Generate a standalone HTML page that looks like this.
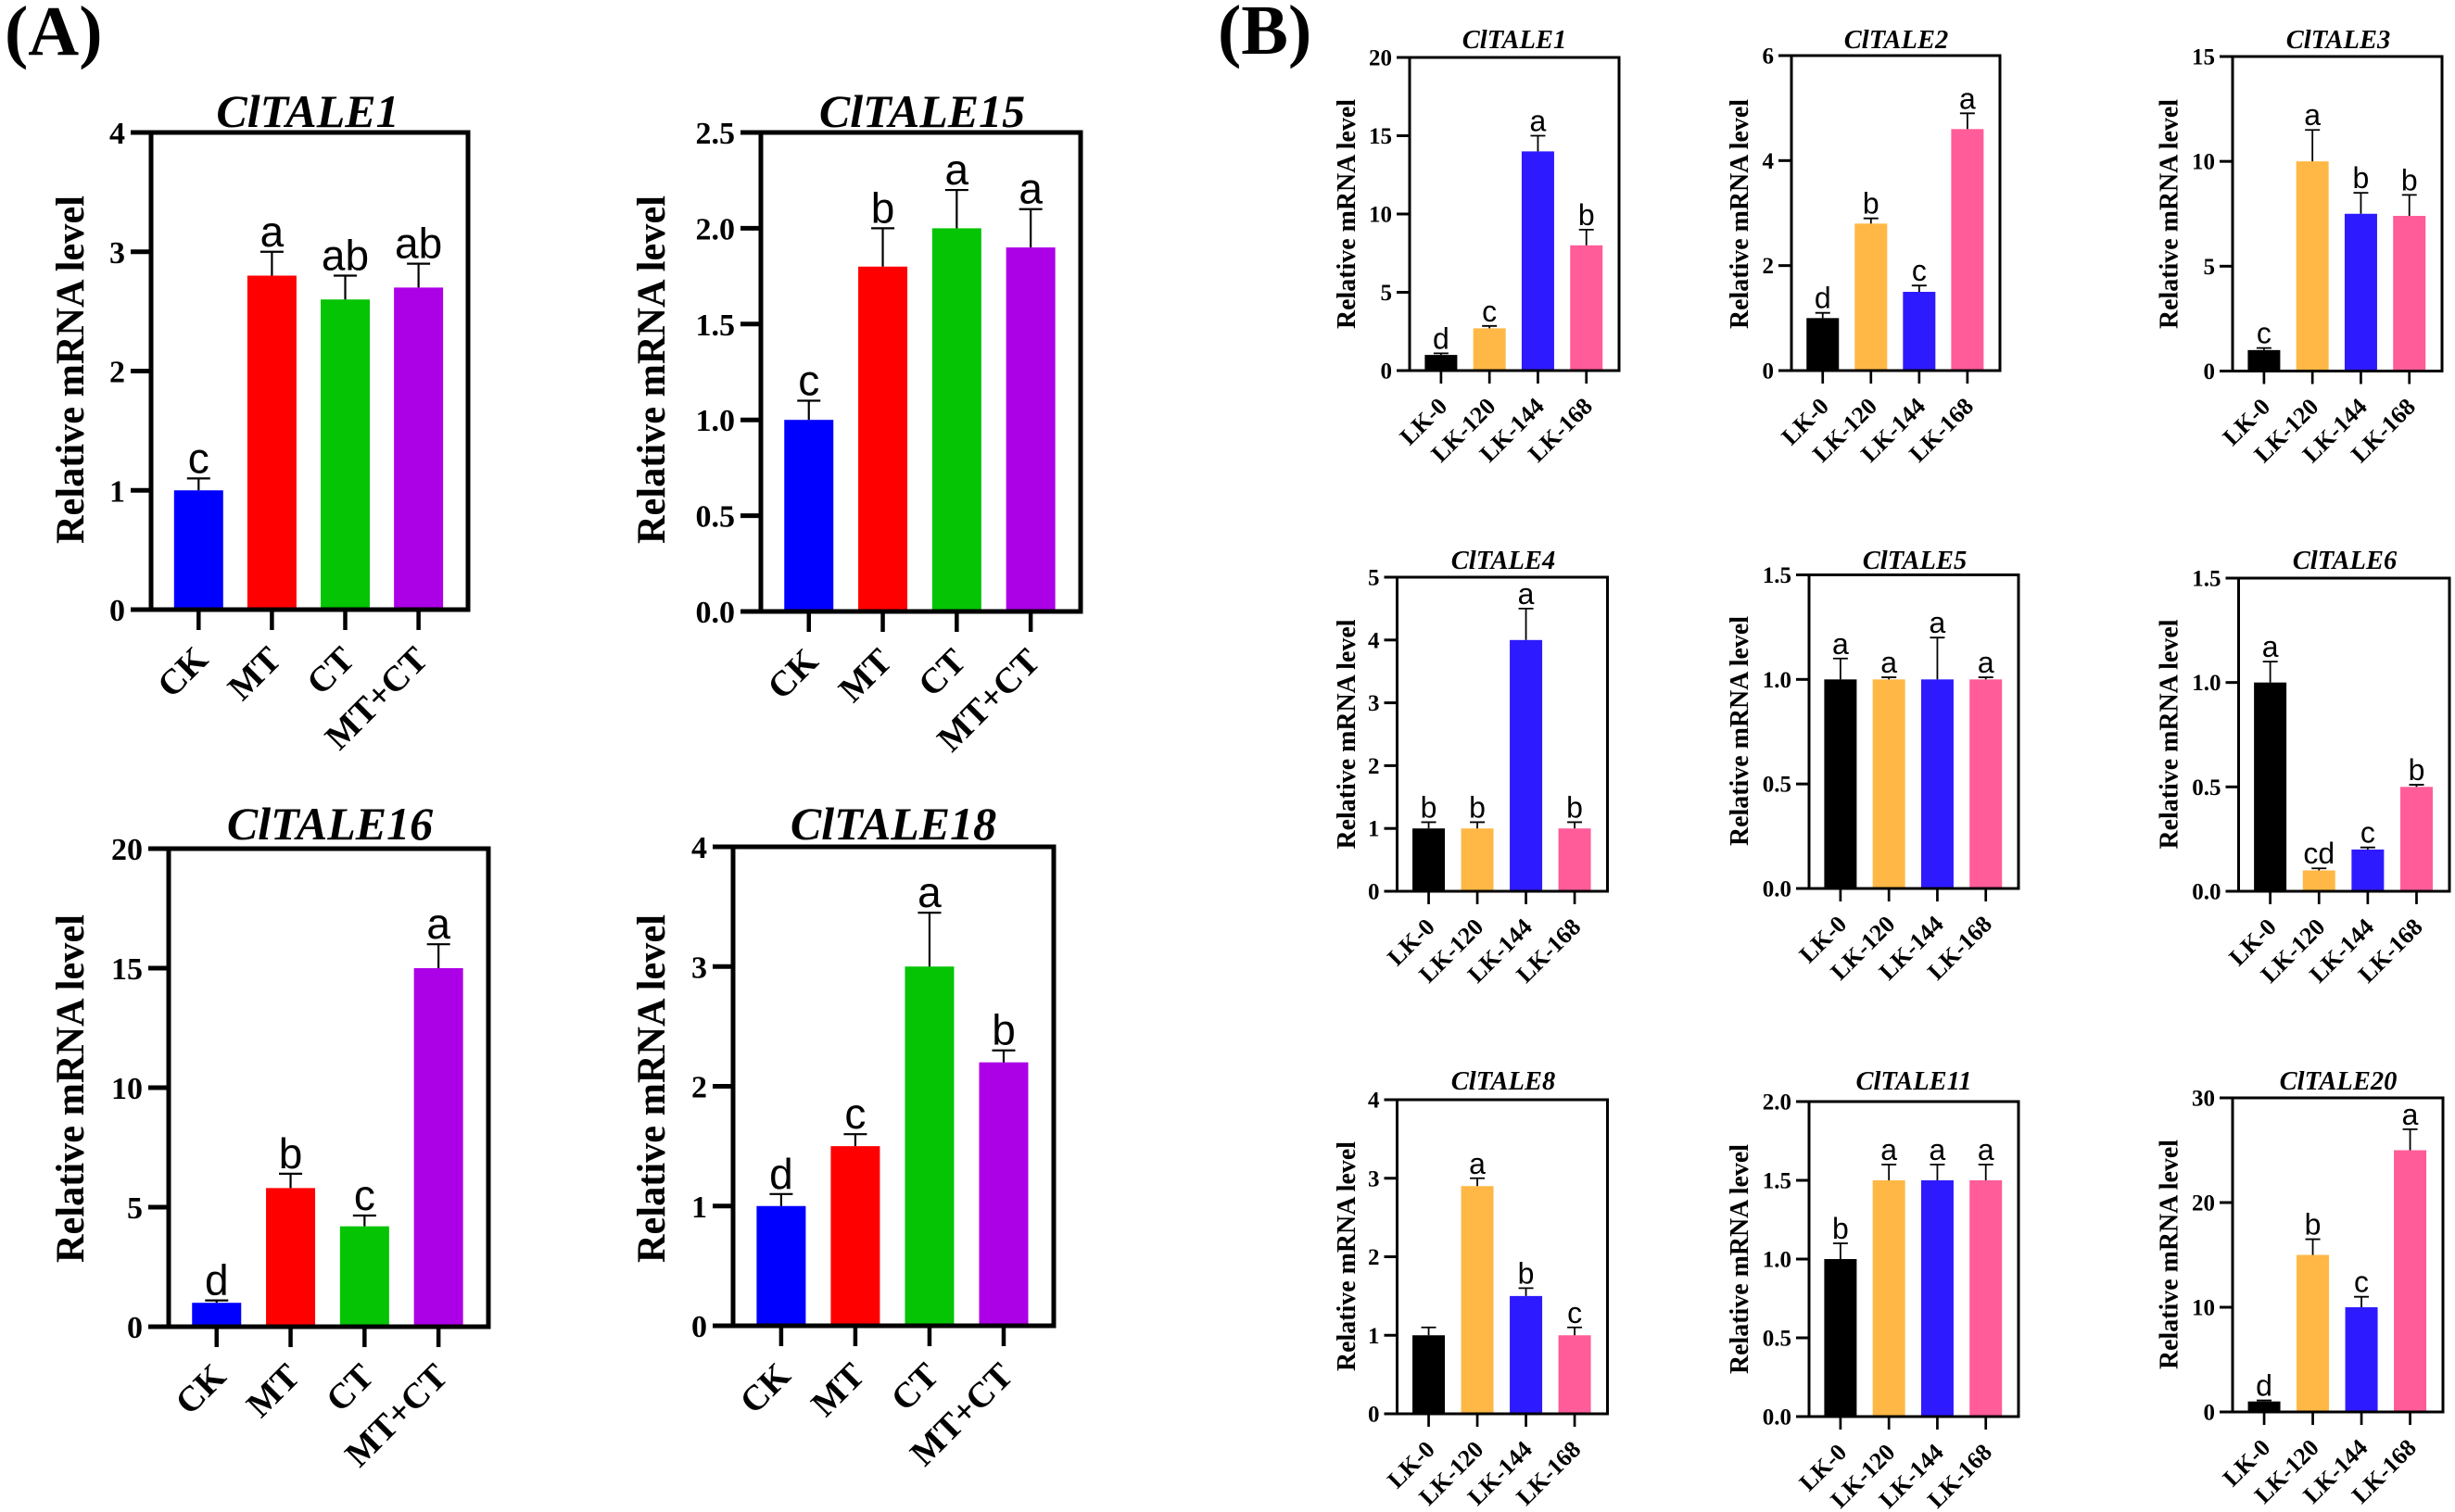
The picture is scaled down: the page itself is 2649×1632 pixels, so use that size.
<!DOCTYPE html>
<html lang="en">
<head>
<meta charset="utf-8">
<title>Relative mRNA level of ClTALE genes</title>
<style>
html,body{margin:0;padding:0;background:#fff;width:2649px;height:1632px;overflow:hidden}
svg{display:block}
text{font-family:"Liberation Serif",serif;font-weight:bold;fill:#000}
.letter{font-family:"Liberation Sans",sans-serif;font-weight:normal;text-anchor:middle}
.title{font-style:italic;text-anchor:middle}
</style>
</head>
<body>
<svg id="figure" xmlns="http://www.w3.org/2000/svg" width="2649" height="1632" viewBox="0 0 2649 1632">
  <rect width="2649" height="1632" fill="#fff"/>
  <text x="5" y="59" font-size="76">(A)</text>
  <text x="1314" y="58" font-size="76">(B)</text>
</svg>
<script>
// ---------- Data: categories ----------
const categoriesA = ["CK", "MT", "CT", "MT+CT"];
const categoriesB = ["LK-0", "LK-120", "LK-144", "LK-168"];

// ---------- Data: panel A ----------
const a1Values = [1, 2.8, 2.6, 2.7];
const a1Errors = [0.1, 0.2, 0.2, 0.2];
const a1Letters = ["c", "a", "ab", "ab"];
const a1Ticks = ["0", "1", "2", "3", "4"];

const a15Values = [1, 1.8, 2, 1.9];
const a15Errors = [0.1, 0.2, 0.2, 0.2];
const a15Letters = ["c", "b", "a", "a"];
const a15Ticks = ["0.0", "0.5", "1.0", "1.5", "2.0", "2.5"];

const a16Values = [1, 5.8, 4.2, 15];
const a16Errors = [0.1, 0.6, 0.45, 1];
const a16Letters = ["d", "b", "c", "a"];
const a16Ticks = ["0", "5", "10", "15", "20"];

const a18Values = [1, 1.5, 3, 2.2];
const a18Errors = [0.1, 0.1, 0.45, 0.1];
const a18Letters = ["d", "c", "a", "b"];
const a18Ticks = ["0", "1", "2", "3", "4"];

// ---------- Data: panel B ----------
const b1Values = [1, 2.7, 14, 8];
const b1Errors = [0.1, 0.15, 1, 1];
const b1Letters = ["d", "c", "a", "b"];
const b1Ticks = ["0", "5", "10", "15", "20"];

const b2Values = [1, 2.8, 1.5, 4.6];
const b2Errors = [0.1, 0.1, 0.12, 0.3];
const b2Letters = ["d", "b", "c", "a"];
const b2Ticks = ["0", "2", "4", "6"];

const b3Values = [1, 10, 7.5, 7.4];
const b3Errors = [0.1, 1.5, 1, 1];
const b3Letters = ["c", "a", "b", "b"];
const b3Ticks = ["0", "5", "10", "15"];

const b4Values = [1, 1, 4, 1];
const b4Errors = [0.1, 0.1, 0.5, 0.1];
const b4Letters = ["b", "b", "a", "b"];
const b4Ticks = ["0", "1", "2", "3", "4", "5"];

const b5Values = [1, 1, 1, 1];
const b5Errors = [0.1, 0.01, 0.2, 0.01];
const b5Letters = ["a", "a", "a", "a"];
const b5Ticks = ["0.0", "0.5", "1.0", "1.5"];

const b6Values = [1, 0.1, 0.2, 0.5];
const b6Errors = [0.1, 0.01, 0.01, 0.01];
const b6Letters = ["a", "cd", "c", "b"];
const b6Ticks = ["0.0", "0.5", "1.0", "1.5"];

const b8Values = [1, 2.9, 1.5, 1];
const b8Errors = [0.1, 0.1, 0.1, 0.1];
const b8Letters = ["", "a", "b", "c"];
const b8Ticks = ["0", "1", "2", "3", "4"];

const b11Values = [1, 1.5, 1.5, 1.5];
const b11Errors = [0.1, 0.1, 0.1, 0.1];
const b11Letters = ["b", "a", "a", "a"];
const b11Ticks = ["0.0", "0.5", "1.0", "1.5", "2.0"];

const b20Values = [1, 15, 10, 25];
const b20Errors = [0.1, 1.5, 1, 2];
const b20Letters = ["d", "b", "c", "a"];
const b20Ticks = ["0", "10", "20", "30"];

// ---------- Styles (not data) ----------
const colorsA = ["#0000ff", "#ff0000", "#04c404", "#ac00e6"];
const colorsB = ["#000000", "#ffb845", "#2e1aff", "#ff5c99"];

const styleA = { axisW: 5, tickLen: 22, tickFont: 34, tickGap: 6, tickBase: 12, barW: 53, errW: 2.2, capW: 25,
  letterFont: 46, letterGap: 6, catFont: 38.5, catDx: 12, catDy: 56, yFont: 43, yLen: 376, titleFont: 50, colors: colorsA, cats: categoriesA };
const styleB = { axisW: 3, tickLen: 14, tickFont: 25, tickGap: 5, tickBase: 8.5, barW: 35, errW: 1.8, capW: 16,
  letterFont: 32, letterGap: 5, catFont: 26, catDx: 8, catDy: 40, yFont: 29, yLen: 248, titleFont: 28.5, colors: colorsB, cats: categoriesB };

// ---------- Charts ----------
const charts = [
  { id: "a-cltale1", title: "ClTALE1", s: styleA, values: a1Values, errors: a1Errors, letters: a1Letters, ticks: a1Ticks,
    box: [163, 505, 143, 658], titleAt: [332, 137], yAt: [90, 399] },
  { id: "a-cltale15", title: "ClTALE15", s: styleA, values: a15Values, errors: a15Errors, letters: a15Letters, ticks: a15Ticks,
    box: [821, 1166, 143, 660], titleAt: [995, 137], yAt: [717, 399] },
  { id: "a-cltale16", title: "ClTALE16", s: styleA, values: a16Values, errors: a16Errors, letters: a16Letters, ticks: a16Ticks,
    box: [182, 527, 916, 1432], titleAt: [356, 906], yAt: [90, 1175] },
  { id: "a-cltale18", title: "ClTALE18", s: styleA, values: a18Values, errors: a18Errors, letters: a18Letters, ticks: a18Ticks,
    box: [791, 1137, 914, 1431], titleAt: [964, 906], yAt: [717, 1175] },

  { id: "b-cltale1", title: "ClTALE1", s: styleB, values: b1Values, errors: b1Errors, letters: b1Letters, ticks: b1Ticks,
    box: [1521, 1747, 62, 400], titleAt: [1634, 52], yAt: [1462, 231] },
  { id: "b-cltale2", title: "ClTALE2", s: styleB, values: b2Values, errors: b2Errors, letters: b2Letters, ticks: b2Ticks,
    box: [1933, 2158, 60, 400], titleAt: [2046, 52], yAt: [1886, 231] },
  { id: "b-cltale3", title: "ClTALE3", s: styleB, values: b3Values, errors: b3Errors, letters: b3Letters, ticks: b3Ticks,
    box: [2409, 2635, 61, 400.5], titleAt: [2523, 52], yAt: [2349.5, 231] },

  { id: "b-cltale4", title: "ClTALE4", s: styleB, values: b4Values, errors: b4Errors, letters: b4Letters, ticks: b4Ticks,
    box: [1507.5, 1734.5, 623, 962], titleAt: [1622, 614], yAt: [1462, 792.5] },
  { id: "b-cltale5", title: "ClTALE5", s: styleB, values: b5Values, errors: b5Errors, letters: b5Letters, ticks: b5Ticks,
    box: [1952, 2178, 620.5, 959], titleAt: [2066, 614], yAt: [1886, 789] },
  { id: "b-cltale6", title: "ClTALE6", s: styleB, values: b6Values, errors: b6Errors, letters: b6Letters, ticks: b6Ticks,
    box: [2415.5, 2643, 624, 962], titleAt: [2530, 614], yAt: [2349.5, 792.5] },

  { id: "b-cltale8", title: "ClTALE8", s: styleB, values: b8Values, errors: b8Errors, letters: b8Letters, ticks: b8Ticks,
    box: [1507.5, 1734.5, 1187, 1526], titleAt: [1622, 1176], yAt: [1462, 1356] },
  { id: "b-cltale11", title: "ClTALE11", s: styleB, values: b11Values, errors: b11Errors, letters: b11Letters, ticks: b11Ticks,
    box: [1952, 2178, 1189, 1529], titleAt: [2065, 1176], yAt: [1886, 1359] },
  { id: "b-cltale20", title: "ClTALE20", s: styleB, values: b20Values, errors: b20Errors, letters: b20Letters, ticks: b20Ticks,
    box: [2409, 2636, 1185, 1524], titleAt: [2523, 1176], yAt: [2349.5, 1354] }
];

const NS = "http://www.w3.org/2000/svg";
const figure = document.getElementById("figure");

function make(tag, parent, attrs, txt) {
  const el = document.createElementNS(NS, tag);
  for (const k in attrs) el.setAttribute(k, attrs[k]);
  if (txt !== undefined) el.textContent = txt;
  parent.appendChild(el);
  return el;
}

function drawChart(c) {
  const s = c.s;
  const [left, right, top, bottom] = c.box;
  const w = right - left;
  const yMax = parseFloat(c.ticks[c.ticks.length - 1]);
  const xBand = i => left + w * (0.15 + i * 0.2313);
  const yScale = v => bottom - (v / yMax) * (bottom - top);

  const g = make("g", figure, {});
  
  

  // bars, error bars and significance letters
  c.values.forEach((v, i) => {
    const cx = xBand(i);
    const bar = make("rect", g, { x: cx - s.barW / 2, y: yScale(v), width: s.barW, height: bottom - yScale(v), fill: s.colors[i] });
    
    

    const yTop = yScale(v + c.errors[i]);
    const stem = make("line", g, { x1: cx, x2: cx, y1: yScale(v), y2: yTop, stroke: "#000", "stroke-width": s.errW });
    
    
    const cap = make("line", g, { x1: cx - s.capW / 2, x2: cx + s.capW / 2, y1: yTop, y2: yTop, stroke: "#000", "stroke-width": s.errW });
    
    

    if (c.letters[i]) {
      const lab = make("text", g, { x: cx, y: yTop - s.letterGap, "font-size": s.letterFont, class: "letter" }, c.letters[i]);
      
      
    }

    const tick = make("line", g, { x1: cx, x2: cx, y1: bottom, y2: bottom + s.tickLen, stroke: "#000", "stroke-width": s.axisW * 0.9 });
    
    

    const ax = cx + s.catDx;
    const ay = bottom + s.catDy;
    const cat = make("text", g, { x: ax, y: ay, "font-size": s.catFont, "text-anchor": "end", transform: "rotate(-45 " + ax + " " + ay + ")" }, s.cats[i]);
    
    
  });

  // frame
  const frame = make("rect", g, { x: left, y: top, width: w, height: bottom - top, fill: "none", stroke: "#000", "stroke-width": s.axisW });
  
  

  // y ticks
  c.ticks.forEach(t => {
    const y = yScale(parseFloat(t));
    const tick = make("line", g, { x1: left - s.tickLen, x2: left, y1: y, y2: y, stroke: "#000", "stroke-width": s.axisW });
    
    
    const lab = make("text", g, { x: left - s.tickLen - s.tickGap, y: y + s.tickBase, "font-size": s.tickFont, "text-anchor": "end" }, t);
    
    
  });

  // y axis title
  const yT = make("text", g, { x: c.yAt[0], y: c.yAt[1], "font-size": s.yFont, "text-anchor": "middle",
    textLength: s.yLen, lengthAdjust: "spacingAndGlyphs", transform: "rotate(-90 " + c.yAt[0] + " " + c.yAt[1] + ")" }, "Relative mRNA level");
  
  

  // chart title
  const title = make("text", g, { x: c.titleAt[0], y: c.titleAt[1], "font-size": s.titleFont, class: "title" }, c.title);
  
  
}

charts.forEach(drawChart);
</script>
</body>
</html>
